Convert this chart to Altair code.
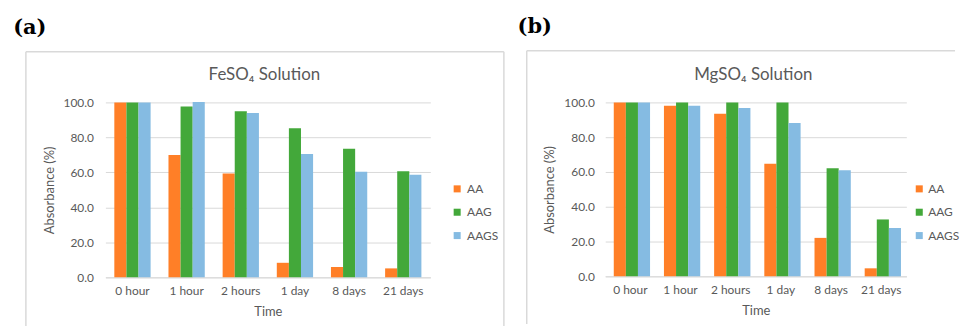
import altair as alt
import pandas as pd

times = ["0 hour", "1 hour", "2 hours", "1 day", "8 days", "21 days"]
series = ["AA", "AAG", "AAGS"]
colors = ["#FF7F27", "#43A83A", "#85BBE2"]

fe_aa = [100.0, 70.0, 59.3, 8.3, 5.9, 5.1]
fe_aag = [100.0, 97.7, 94.9, 85.2, 73.5, 60.6]
fe_aags = [100.0, 100.2, 93.9, 70.5, 60.4, 58.7]

mg_aa = [100.0, 98.1, 93.5, 64.8, 22.1, 4.6]
mg_aag = [100.0, 100.0, 100.0, 100.0, 62.2, 32.7]
mg_aags = [100.0, 98.1, 96.8, 88.2, 61.0, 27.8]

yticks = [0, 20, 40, 60, 80, 100]

FONT = "Lato"
TXT = "#595959"
GRID = "#D9D9D9"


def make_df(aa, aag, aags):
    rows = []
    for i, t in enumerate(times):
        for s, vals in zip(series, [aa, aag, aags]):
            rows.append({"Time": t, "Series": s, "Value": vals[i]})
    return pd.DataFrame(rows)


def panel(df, title, tag, w, h, tag_xy, title_xy, border, legend_xy, lab_pad, pad_in,
          label_offset):
    one = pd.DataFrame({"k": [0]})
    bars = alt.Chart(df).mark_bar().encode(
        x=alt.X("Time:N", sort=times,
                scale=alt.Scale(paddingInner=pad_in, paddingOuter=pad_in / 2),
                axis=alt.Axis(title="Time", labelAngle=0, ticks=False,
                              domainColor=GRID, labelColor=TXT, titleColor=TXT,
                              labelFont=FONT, titleFont=FONT, labelFontSize=12,
                              titleFontSize=13, titleFontWeight="normal",
                              labelPadding=8, titlePadding=9)),
        xOffset=alt.XOffset("Series:N", sort=series),
        y=alt.Y("Value:Q", scale=alt.Scale(domain=[0, 100], nice=False),
                axis=alt.Axis(title="Absorbance (%)", values=yticks, format=".1f",
                              ticks=False, domain=False, gridColor=GRID,
                              labelColor=TXT, titleColor=TXT, labelFont=FONT,
                              titleFont=FONT, labelFontSize=12, titleFontSize=13,
                              titleFontWeight="normal", labelPadding=lab_pad,
                              titlePadding=7)),
        color=alt.Color("Series:N", scale=alt.Scale(domain=series, range=colors),
                        legend=alt.Legend(title=None, orient="none", padding=0,
                                          legendX=legend_xy[0], legendY=legend_xy[1],
                                          symbolType="square", symbolSize=50,
                                          symbolStrokeWidth=0, labelFont=FONT,
                                          labelFontSize=12, labelColor=TXT,
                                          rowPadding=11.5, labelOffset=label_offset)),
    )
    tag_t = alt.Chart(one).mark_text(font="DejaVu Serif", fontWeight="bold",
                                     fontSize=21, color="#000000", text=tag,
                                     align="center", baseline="middle").encode(
        x=alt.value(tag_xy[0]), y=alt.value(tag_xy[1]))
    title_t = alt.Chart(one).mark_text(font=FONT, fontSize=17, color=TXT, text=title,
                                       align="center", baseline="middle").encode(
        x=alt.value(title_xy[0]), y=alt.value(title_xy[1]))
    bl, br, bt, bb, show_right = border
    top = alt.Chart(one).mark_rule(color=GRID, strokeWidth=1.5).encode(
        x=alt.value(bl), x2=alt.value(br), y=alt.value(bt), y2=alt.value(bt))
    left = alt.Chart(one).mark_rule(color=GRID, strokeWidth=1.5).encode(
        x=alt.value(bl), x2=alt.value(bl), y=alt.value(bt), y2=alt.value(bb))
    layers = [top, left]
    if show_right:
        right = alt.Chart(one).mark_rule(color=GRID, strokeWidth=1.5).encode(
            x=alt.value(br), x2=alt.value(br), y=alt.value(bt), y2=alt.value(bb))
        layers.append(right)
    return alt.layer(*layers, bars, tag_t, title_t).properties(width=w, height=h)


pa = panel(make_df(fe_aa, fe_aag, fe_aags), "FeSO\u2084 Solution", "(a)", 327, 176,
           (-76, -75), (160, -28), (-80, 401, -51, 225, True), (348, 81), 12, 0.33, 4)
pb = panel(make_df(mg_aa, mg_aag, mg_aags), "MgSO\u2084 Solution", "(b)", 303, 175,
           (-71, -76), (149, -28), (-79, 352, -52, 223, False), (310, 81), 11, 0.34, 3)

chart = alt.hconcat(pa, pb, spacing=12).resolve_scale(
    color="independent"
).resolve_legend(color="independent").properties(
    padding={"left": 5, "top": 7, "right": 0, "bottom": 0}
).configure_view(stroke=None).configure_axis(grid=True)
chart = chart.configure_axisX(grid=False)

chart.save("out.html", embed_options={"renderer": "svg", "actions": False})
